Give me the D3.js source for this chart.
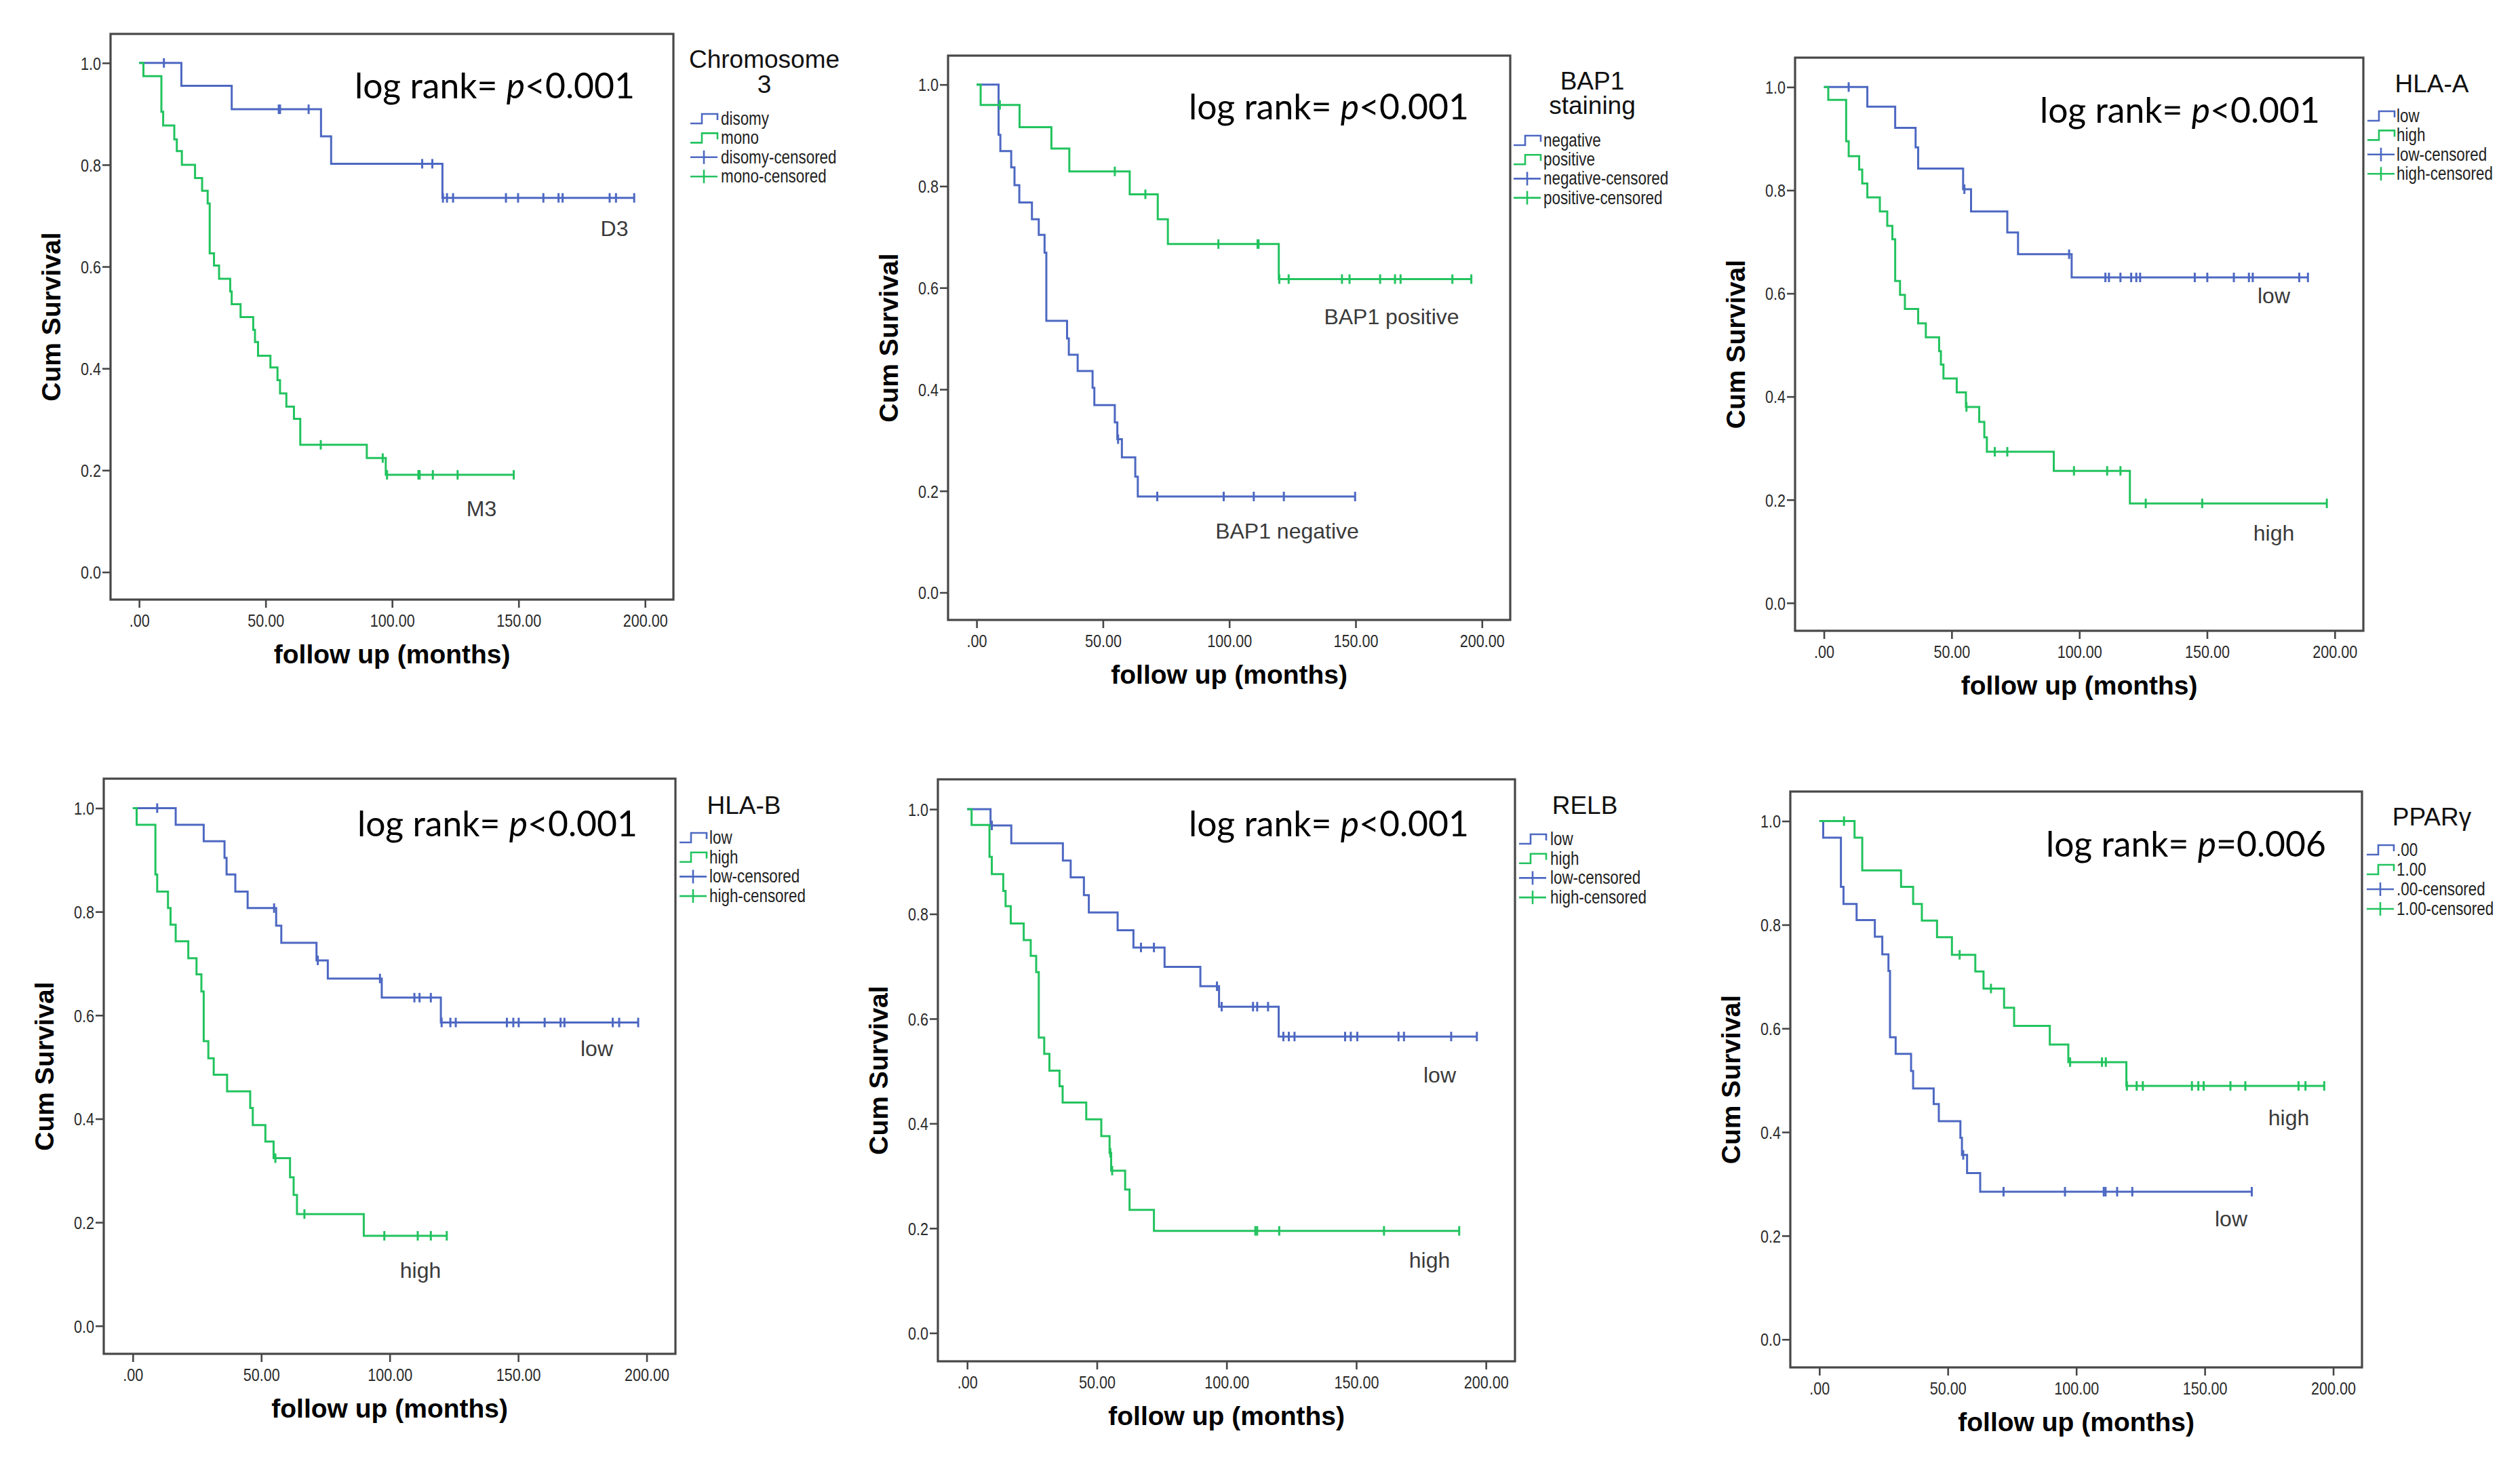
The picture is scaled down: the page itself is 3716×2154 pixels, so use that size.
<!DOCTYPE html>
<html><head><meta charset="utf-8">
<script src="https://cdn.jsdelivr.net/npm/d3@7"></script>
<style>html,body{margin:0;padding:0;background:#fff;} svg{display:block}</style>
</head><body>
<svg id="c" width="3716" height="2154"></svg>
<script>
// ---------------- DATA ----------------
const xTicks = [0, 50, 100, 150, 200];
const xTickLabels = [".00", "50.00", "100.00", "150.00", "200.00"];
const yTicks = [0, 0.2, 0.4, 0.6, 0.8, 1.0];
const yTickLabels = ["0.0", "0.2", "0.4", "0.6", "0.8", "1.0"];

const panelTitles = [["Chromosome", "3"], ["BAP1", "staining"], ["HLA-A"], ["HLA-B"], ["RELB"], ["PPARγ"]];
const legendLabels = [
  ["disomy", "mono", "disomy-censored", "mono-censored"],
  ["negative", "positive", "negative-censored", "positive-censored"],
  ["low", "high", "low-censored", "high-censored"],
  ["low", "high", "low-censored", "high-censored"],
  ["low", "high", "low-censored", "high-censored"],
  [".00", "1.00", ".00-censored", "1.00-censored"]
];
const logRankP = ["<0.001", "<0.001", "<0.001", "<0.001", "<0.001", "=0.006"];
const curveLabels = [["D3", "M3"], ["BAP1 negative", "BAP1 positive"], ["low", "high"], ["low", "high"], ["low", "high"], ["low", "high"]];

// events: [months, cumulative survival after event]; censored: months
const chr3DisomyEvents = [[16.7,0.955],[36.6,0.909],[71.9,0.856],[75.9,0.802],[119.9,0.735]];
const chr3DisomyCensored = [9.8,55.2,55.7,67.0,111.9,115.9,120.1,121.7,124.1,145.0,149.8,159.8,165.8,167.4,186.0,188.5,195.7];
const chr3MonoEvents = [[1.7,0.974],[8.8,0.904],[9.5,0.877],[13.9,0.850],[14.9,0.827],[16.9,0.800],[22.1,0.774],[24.9,0.749],[27.1,0.724],[27.9,0.626],[29.6,0.602],[31.6,0.576],[36.0,0.551],[36.6,0.526],[40.1,0.501],[45.1,0.476],[45.8,0.452],[47.0,0.425],[51.9,0.402],[54.7,0.377],[55.7,0.351],[58.2,0.325],[61.2,0.301],[63.7,0.250],[90.0,0.224],[97.5,0.191]];
const chr3MonoCensored = [71.8,96.3,98.0,110.4,110.9,116.1,125.9,148.1];

const bap1NegEvents = [[8.7,0.901],[9.4,0.869],[13.7,0.837],[15.0,0.802],[16.9,0.768],[21.9,0.735],[24.6,0.704],[26.9,0.669],[27.6,0.535],[35.8,0.500],[36.5,0.468],[40.0,0.436],[45.9,0.403],[46.6,0.369],[54.7,0.335],[55.7,0.302],[57.5,0.266],[62.8,0.228],[63.8,0.189]];
const bap1NegCensored = [56.0,71.5,97.8,109.7,121.6,149.8];
const bap1PosEvents = [[1.6,0.960],[17.0,0.916],[29.6,0.874],[36.7,0.829],[60.6,0.784],[71.7,0.735],[75.7,0.686],[119.6,0.617]];
const bap1PosCensored = [9.2,54.7,66.8,95.7,111.2,111.6,119.8,123.5,144.6,147.6,159.7,165.6,167.8,188.3,195.8];

const hlaALowEvents = [[17.0,0.962],[27.9,0.921],[35.9,0.883],[36.9,0.842],[54.5,0.802],[57.6,0.759],[71.8,0.718],[76.0,0.676],[97.0,0.631]];
const hlaALowCensored = [9.7,55.0,96.0,110.2,111.6,116.1,120.3,122.3,123.8,145.2,150.1,160.5,166.4,167.9,186.1,189.5];
const hlaAHighEvents = [[1.7,0.975],[8.7,0.895],[9.7,0.866],[13.8,0.840],[15.0,0.813],[17.0,0.786],[21.9,0.759],[24.8,0.731],[26.8,0.705],[27.9,0.624],[29.8,0.597],[31.7,0.570],[36.9,0.542],[39.9,0.515],[45.1,0.488],[45.8,0.462],[46.8,0.435],[52.0,0.408],[55.6,0.380],[60.8,0.351],[62.8,0.321],[63.8,0.293],[90.0,0.256],[119.8,0.193]];
const hlaAHighCensored = [55.8,66.9,71.8,97.9,110.9,116.1,126.0,148.1,196.9];

const hlaBLowEvents = [[16.7,0.968],[27.6,0.936],[35.7,0.904],[36.5,0.872],[39.9,0.839],[44.7,0.807],[55.8,0.773],[57.8,0.740],[71.5,0.706],[75.9,0.671],[96.9,0.634],[119.9,0.586]];
const hlaBLowCensored = [9.5,55.0,72.0,96.2,109.6,111.6,116.0,120.2,123.6,125.7,145.6,148.1,150.2,160.3,166.5,168.0,186.8,189.3,196.7];
const hlaBHighEvents = [[1.5,0.968],[8.8,0.872],[9.5,0.839],[13.7,0.807],[14.7,0.775],[16.7,0.743],[21.6,0.710],[24.8,0.679],[26.7,0.646],[27.6,0.550],[29.4,0.517],[31.5,0.485],[36.7,0.453],[45.7,0.421],[46.7,0.388],[51.6,0.356],[54.8,0.324],[61.2,0.287],[62.6,0.253],[63.9,0.216],[89.9,0.174]];
const hlaBHighCensored = [55.5,66.8,97.9,110.9,116.0,122.2];

const relbLowEvents = [[9.0,0.969],[17.0,0.935],[36.9,0.902],[39.9,0.870],[45.0,0.836],[46.9,0.803],[58.0,0.769],[64.1,0.736],[76.1,0.699],[89.9,0.662],[97.1,0.623],[120.1,0.566]];
const relbLowCensored = [9.5,67.0,72.0,96.3,98.1,110.2,111.8,116.0,121.9,124.0,126.2,145.7,147.9,150.4,166.3,168.4,186.6,196.5];
const relbHighEvents = [[1.7,0.970],[8.6,0.909],[9.5,0.876],[13.9,0.844],[14.8,0.815],[16.8,0.782],[21.8,0.750],[24.5,0.720],[26.6,0.689],[27.6,0.564],[29.7,0.533],[31.7,0.501],[35.6,0.471],[36.8,0.440],[45.9,0.408],[51.7,0.376],[54.9,0.344],[55.5,0.310],[60.9,0.274],[62.6,0.235],[72.0,0.195]];
const relbHighCensored = [55.2,55.9,111.1,111.8,120.3,160.7,189.7];

const ppargLowEvents = [[1.5,0.968],[8.4,0.873],[9.4,0.840],[14.5,0.809],[21.6,0.777],[24.5,0.743],[26.9,0.711],[27.5,0.583],[29.7,0.551],[35.7,0.518],[36.5,0.484],[44.5,0.454],[46.5,0.421],[54.9,0.389],[55.5,0.356],[57.5,0.321],[62.6,0.285]];
const ppargLowCensored = [56.0,71.7,95.6,110.7,111.4,115.9,121.8,168.3];
const ppargHighEvents = [[13.7,0.968],[16.7,0.905],[31.8,0.873],[36.5,0.840],[39.9,0.808],[45.8,0.776],[51.6,0.742],[60.7,0.710],[63.9,0.677],[71.9,0.640],[75.8,0.605],[89.7,0.569],[96.9,0.535],[119.5,0.489]];
const ppargHighCensored = [9.6,54.6,66.8,97.6,110.0,111.5,119.7,123.5,125.9,145.0,147.5,149.6,160.0,165.8,186.5,189.2,196.5];

// ---------------- STYLE / LAYOUT ----------------
const BLUE = "#4d68c2", GREEN = "#22c35e", FRAME = "#474747";
const X_DOMAIN = [-11.3, 211.2], Y_DOMAIN = [-0.054, 1.057];

const layout = [
  {frame:{l:163,r:993,t:50,b:884}, titleX:1127, titleY:[100,137], symX:1018, textX:1063, legY:175, legDy:28.4, lrX:523, lrY:145,
   labelPos:[[906,348],[710,761]]},
  {frame:{l:1398,r:2227,t:82,b:914}, titleX:2348, titleY:[132,168], symX:2232, textX:2276, legY:207, legDy:28.2, lrX:1753, lrY:176,
   labelPos:[[1898,794],[2052,478]]},
  {frame:{l:2647,r:3485,t:85,b:930}, titleX:3586, titleY:[136], symX:3491, textX:3534, legY:171, legDy:28.4, lrX:3008, lrY:181,
   labelPos:[[3353,447],[3353,797]]},
  {frame:{l:153,r:996,t:1148,b:1996}, titleX:1097, titleY:[1200], symX:1002, textX:1046, legY:1235, legDy:28.7, lrX:527, lrY:1233,
   labelPos:[[880,1557],[620,1884]]},
  {frame:{l:1383,r:2234,t:1149,b:2007}, titleX:2337, titleY:[1200], symX:2240, textX:2286, legY:1237, legDy:28.7, lrX:1753, lrY:1233,
   labelPos:[[2123,1596],[2108,1869]]},
  {frame:{l:2640,r:3483,t:1167,b:2016}, titleX:3586, titleY:[1217], symX:3490, textX:3534, legY:1253, legDy:29, lrX:3017, lrY:1263,
   labelPos:[[3290,1808],[3375,1659]]}
];

const seriesData = [
  [{events:chr3DisomyEvents, censored:chr3DisomyCensored, color:BLUE}, {events:chr3MonoEvents, censored:chr3MonoCensored, color:GREEN}],
  [{events:bap1NegEvents, censored:bap1NegCensored, color:BLUE}, {events:bap1PosEvents, censored:bap1PosCensored, color:GREEN}],
  [{events:hlaALowEvents, censored:hlaALowCensored, color:BLUE}, {events:hlaAHighEvents, censored:hlaAHighCensored, color:GREEN}],
  [{events:hlaBLowEvents, censored:hlaBLowCensored, color:BLUE}, {events:hlaBHighEvents, censored:hlaBHighCensored, color:GREEN}],
  [{events:relbLowEvents, censored:relbLowCensored, color:BLUE}, {events:relbHighEvents, censored:relbHighCensored, color:GREEN}],
  [{events:ppargLowEvents, censored:ppargLowCensored, color:BLUE}, {events:ppargHighEvents, censored:ppargHighCensored, color:GREEN}]
];

const svg = d3.select("#c");
svg.append("rect").attr("width", 3716).attr("height", 2154).attr("fill", "#fff");

const NARROW = 0.83;
const SANS = "'Liberation Sans', Arial, sans-serif";

function survivalAt(events, t) {
  let s = 1;
  for (const e of events) { if (e[0] <= t) s = e[1]; }
  return s;
}

layout.forEach((L, pi) => {
  const f = L.frame;
  const g = svg.append("g");
  const x = d3.scaleLinear().domain(X_DOMAIN).range([f.l, f.r]);
  const y = d3.scaleLinear().domain(Y_DOMAIN).range([f.b, f.t]);

  // frame
  g.append("rect").attr("x", f.l).attr("y", f.t).attr("width", f.r - f.l).attr("height", f.b - f.t)
    .attr("fill", "none").attr("stroke", FRAME).attr("stroke-width", 3.2);

  // x axis
  const gx = g.append("g").attr("transform", `translate(0,${f.b})`)
    .call(d3.axisBottom(x).tickValues(xTicks).tickSize(12).tickFormat((d, i) => xTickLabels[i]));
  gx.select(".domain").remove();
  gx.selectAll(".tick line").attr("stroke", FRAME).attr("stroke-width", 2.6);
  gx.selectAll(".tick text").attr("y", 31).attr("dy", null).attr("dominant-baseline", "central")
    .attr("transform", `scale(${NARROW},1)`).attr("fill", "#2a2a2a")
    .style("font-family", SANS).style("font-size", "26px");

  // y axis
  const gy = g.append("g").attr("transform", `translate(${f.l},0)`)
    .call(d3.axisLeft(y).tickValues(yTicks).tickSize(12).tickFormat((d, i) => yTickLabels[i]));
  gy.select(".domain").remove();
  gy.selectAll(".tick line").attr("stroke", FRAME).attr("stroke-width", 2.6);
  gy.selectAll(".tick text").attr("x", -14 / NARROW).attr("dy", null).attr("dominant-baseline", "central")
    .attr("transform", `scale(${NARROW},1)`).attr("fill", "#2a2a2a")
    .style("font-family", SANS).style("font-size", "26px");

  // axis titles
  g.append("text").attr("transform", `translate(${f.l - 88},${(f.t + f.b) / 2}) rotate(-90)`)
    .attr("text-anchor", "middle").attr("dominant-baseline", "central")
    .style("font-family", SANS).style("font-weight", "bold").style("font-size", "39px").attr("fill", "#000")
    .text("Cum Survival");
  g.append("text").attr("x", x(100)).attr("y", f.b + 94).attr("text-anchor", "middle")
    .style("font-family", SANS).style("font-weight", "bold").style("font-size", "39px").attr("fill", "#000")
    .text("follow up (months)");

  // curves
  const line = d3.line().x(d => x(d[0])).y(d => y(d[1])).curve(d3.curveStepAfter);
  seriesData[pi].forEach((s, si) => {
    const last = s.events.length ? s.events[s.events.length - 1] : [0, 1];
    const endT = Math.max(last[0], d3.max(s.censored));
    const pts = [[0, 1]].concat(s.events, [[endT, last[1]]]);
    g.append("path").attr("d", line(pts)).attr("fill", "none").attr("stroke", s.color)
      .attr("stroke-width", 3).attr("stroke-linejoin", "miter");
    g.selectAll(null).data(s.censored).enter().append("line")
      .attr("x1", d => x(d)).attr("x2", d => x(d))
      .attr("y1", d => y(survivalAt(s.events, d)) - 7).attr("y2", d => y(survivalAt(s.events, d)) + 7)
      .attr("stroke", s.color).attr("stroke-width", 3);
  });

  // curve labels
  curveLabels[pi].forEach((txt, i) => {
    g.append("text").attr("x", L.labelPos[i][0]).attr("y", L.labelPos[i][1]).attr("text-anchor", "middle")
      .style("font-family", SANS).style("font-size", "32px").attr("fill", "#3a3a3a").text(txt);
  });

  // log rank
  const t = g.append("text").attr("x", L.lrX).attr("y", L.lrY)
    .attr("textLength", 413).attr("lengthAdjust", "spacingAndGlyphs")
    .style("font-family", "Lato, 'Open Sans', sans-serif").style("font-size", "52px")
    .style("white-space", "pre").attr("fill", "#000");
  t.append("tspan").text("log rank= ");
  t.append("tspan").style("font-style", "italic").text("p");
  t.append("tspan").text(logRankP[pi]);

  // legend title
  panelTitles[pi].forEach((line, i) => {
    g.append("text").attr("x", L.titleX).attr("y", L.titleY[i]).attr("text-anchor", "middle")
      .style("font-family", SANS).style("font-size", "37px").attr("fill", "#111").text(line);
  });

  // legend items
  const cols = [BLUE, GREEN, BLUE, GREEN];
  legendLabels[pi].forEach((lab, i) => {
    const cy = L.legY + i * L.legDy;
    const x0 = L.symX, w = 40;
    if (i < 2) {
      g.append("path").attr("d", `M${x0},${cy + 7}H${x0 + 17}V${cy - 7}H${x0 + w}V${cy + 2}`)
        .attr("fill", "none").attr("stroke", cols[i]).attr("stroke-width", 2.6);
    } else {
      g.append("line").attr("x1", x0).attr("x2", x0 + w).attr("y1", cy).attr("y2", cy)
        .attr("stroke", cols[i]).attr("stroke-width", 2.6);
      g.append("line").attr("x1", x0 + w / 2).attr("x2", x0 + w / 2).attr("y1", cy - 10).attr("y2", cy + 10)
        .attr("stroke", cols[i]).attr("stroke-width", 2.6);
    }
    g.append("text").attr("transform", `translate(${L.textX},${cy + 9}) scale(${NARROW},1)`)
      .style("font-family", SANS).style("font-size", "27px").attr("fill", "#222").text(lab);
  });
});
</script>
</body></html>
